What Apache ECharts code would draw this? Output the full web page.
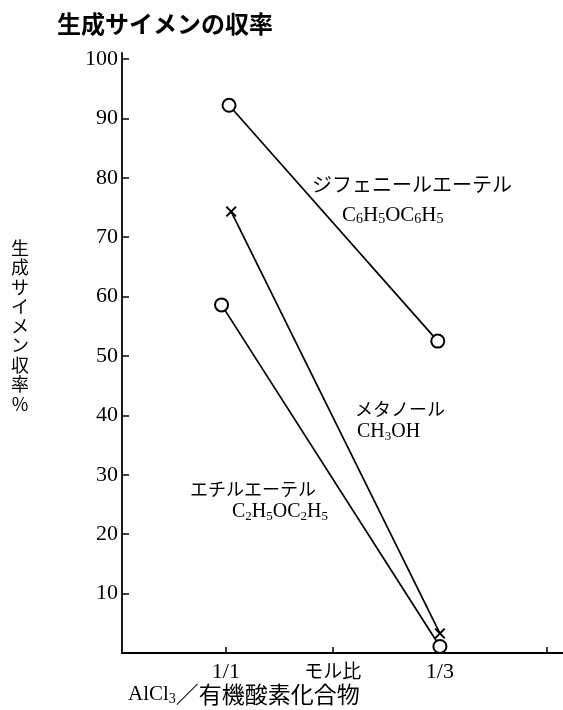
<!DOCTYPE html>
<html><head><meta charset="utf-8">
<script src="https://cdn.jsdelivr.net/npm/echarts@6/dist/echarts.min.js"></script>
<style>html,body{margin:0;padding:0;background:#fff}#c{width:563px;height:710px}</style>
</head><body><div id="c"></div>
<script>
// ---- data ----
const yTicks = [10, 20, 30, 40, 50, 60, 70, 80, 90, 100];
const xTicks = [1, 2, 3, 4];
const xTickLabels = ['1/1', 'モル比', '1/3', ''];
const diphenylEther = [[1.03, 92.2], [2.98, 52.5]];
const methanol = [[1.05, 74.3], [3.00, 3.3]];
const ethylEther = [[0.96, 58.6], [3.00, 1.1]];

const JP = '"Noto Sans CJK JP", "Noto Sans CJK SC", sans-serif';
const SERIF = '"Liberation Serif", "DejaVu Serif", serif';
const crossPath = 'path://M0,1.2L1.2,0L5,3.8L8.8,0L10,1.2L6.2,5L10,8.8L8.8,10L5,6.2L1.2,10L0,8.8L3.8,5Z';

function formulaRich(size) {
  return {
    m: { fontFamily: SERIF, fontSize: size, lineHeight: size + 2, verticalAlign: 'middle', fill: '#000' },
    s: { fontFamily: SERIF, fontSize: Math.round(size * 0.65), lineHeight: Math.round(size * 0.65), verticalAlign: 'bottom', fill: '#000' }
  };
}

const chart = echarts.init(document.getElementById('c'), null, { renderer: 'canvas' });
const lineBase = {
  type: 'line', animation: false, silent: true,
  lineStyle: { color: '#000', width: 1.7 },
  emphasis: { disabled: true }
};
chart.setOption({
  backgroundColor: '#fff',
  animation: false,
  grid: { left: 122, right: 0, top: 53, bottom: 57, containLabel: false },
  xAxis: {
    type: 'value', min: 0.03, max: 4.15,
    splitLine: { show: false },
    axisLine: { show: true, lineStyle: { color: '#000', width: 1.8 } },
    axisTick: { show: true, inside: true, length: 6, lineStyle: { color: '#000', width: 1.5 }, customValues: xTicks },
    axisLabel: {
      customValues: xTicks, margin: 8, color: '#000', fontFamily: SERIF, fontSize: 22,
      formatter: v => { const i = xTicks.indexOf(Math.round(v)); const t = i >= 0 ? xTickLabels[i] : ''; return t === 'モル比' ? '{jp|' + t + '}' : t; },
      rich: { jp: { fontFamily: JP, fontSize: 19, color: '#000' } }
    }
  },
  yAxis: {
    type: 'value', min: 0, max: 101,
    splitLine: { show: false },
    axisLine: { show: true, lineStyle: { color: '#000', width: 1.8 } },
    axisTick: { show: true, inside: true, length: 7, lineStyle: { color: '#000', width: 1.5 }, customValues: yTicks },
    axisLabel: { customValues: yTicks, margin: 4, color: '#000', fontFamily: SERIF, fontSize: 22 }
  },
  series: [
    Object.assign({}, lineBase, { name: 'ジフェニールエーテル', data: diphenylEther, symbol: 'circle', symbolSize: 13,
      itemStyle: { color: '#fff', borderColor: '#000', borderWidth: 2 } }),
    Object.assign({}, lineBase, { name: 'メタノール', data: methanol, symbol: crossPath, symbolSize: 11,
      itemStyle: { color: '#000', borderWidth: 0 } }),
    Object.assign({}, lineBase, { name: 'エチルエーテル', data: ethylEther, symbol: 'circle', symbolSize: 13,
      itemStyle: { color: '#fff', borderColor: '#000', borderWidth: 2 } })
  ],
  graphic: [
    { type: 'text', left: 57, top: 12, style: { text: '生成サイメンの収率', fontFamily: JP, fontWeight: 'bold', fontSize: 24, fill: '#000' } },
    { type: 'text', x: 20, y: 326, style: { text: '生\n成\nサ\nイ\nメ\nン\n収\n率\n%', fontFamily: JP, fontSize: 18, lineHeight: 19.5, fill: '#000', textAlign: 'center', textVerticalAlign: 'middle' } },
    { type: 'text', x: 128, y: 694, style: { text: '{m|AlCl}{s|3}{j|／有機酸素化合物}', textVerticalAlign: 'middle',
      rich: Object.assign(formulaRich(21), { j: { fontFamily: JP, fontSize: 23, lineHeight: 25, verticalAlign: 'middle', fill: '#000' } }) } },
    { type: 'text', x: 312, y: 184, style: { text: 'ジフェニールエーテル', fontFamily: JP, fontSize: 20, fill: '#000', textVerticalAlign: 'middle' } },
    { type: 'text', x: 342, y: 215, style: { text: '{m|C}{s|6}{m|H}{s|5}{m|OC}{s|6}{m|H}{s|5}', textVerticalAlign: 'middle', rich: formulaRich(21) } },
    { type: 'text', x: 355, y: 409, style: { text: 'メタノール', fontFamily: JP, fontSize: 18, fill: '#000', textVerticalAlign: 'middle' } },
    { type: 'text', x: 357, y: 432, style: { text: '{m|CH}{s|3}{m|OH}', textVerticalAlign: 'middle', rich: formulaRich(20) } },
    { type: 'text', x: 190, y: 489, style: { text: 'エチルエーテル', fontFamily: JP, fontSize: 18, fill: '#000', textVerticalAlign: 'middle' } },
    { type: 'text', x: 232, y: 512, style: { text: '{m|C}{s|2}{m|H}{s|5}{m|OC}{s|2}{m|H}{s|5}', textVerticalAlign: 'middle', rich: formulaRich(20) } }
  ]
});
</script>
</body></html>
